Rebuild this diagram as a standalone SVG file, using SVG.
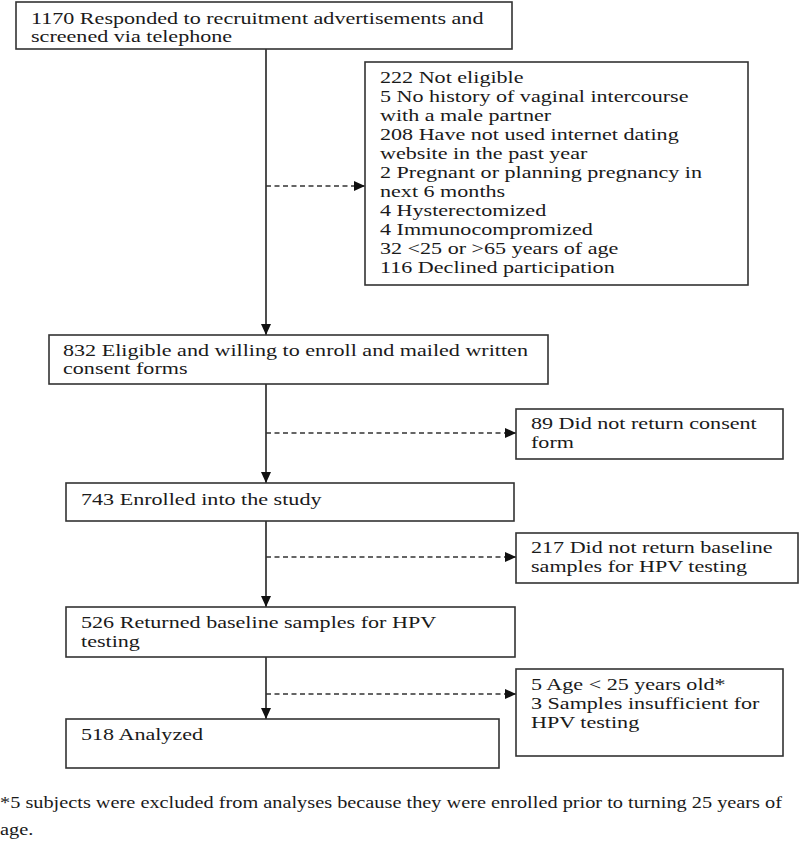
<svg xmlns="http://www.w3.org/2000/svg" width="800" height="846" viewBox="0 0 800 846">
<style>
.box{fill:#fff;stroke:#333;stroke-width:1.6}
.t{font-family:"Liberation Serif","Times New Roman",serif;font-size:17px;fill:#1a1a1a}
.ln{stroke:#222;stroke-width:1.6;fill:none}
.dash{stroke:#333;stroke-width:1.3;fill:none;stroke-dasharray:5 3.5}
</style>
<defs>
<marker id="ah" markerUnits="userSpaceOnUse" markerWidth="12" markerHeight="10" refX="11" refY="5" orient="auto">
<path d="M0,0 L11,5 L0,10 Z" fill="#111"/>
</marker>
</defs>
<rect width="800" height="846" fill="#fff"/>
<g id="connectors">
<line class="ln" x1="266" y1="49" x2="266" y2="335" marker-end="url(#ah)"/>
<line class="dash" x1="266" y1="186" x2="365" y2="186" marker-end="url(#ah)"/>
<line class="ln" x1="266" y1="384" x2="266" y2="483" marker-end="url(#ah)"/>
<line class="dash" x1="266" y1="433" x2="516" y2="433" marker-end="url(#ah)"/>
<line class="ln" x1="266" y1="521" x2="266" y2="607" marker-end="url(#ah)"/>
<line class="dash" x1="266" y1="557" x2="516" y2="557" marker-end="url(#ah)"/>
<line class="ln" x1="266" y1="657" x2="266" y2="719" marker-end="url(#ah)"/>
<line class="dash" x1="266" y1="694" x2="516" y2="694" marker-end="url(#ah)"/>
</g>
<g id="n1170">
<rect class="box" x="16" y="2" width="496" height="47"/>
<g transform="translate(31,0) scale(1.3,1)"><text class="t"><tspan x="0" y="24">1170 Responded to recruitment advertisements and</tspan><tspan x="0" y="42">screened via telephone</tspan></text></g>
</g>
<g id="n222">
<rect class="box" x="365" y="62" width="383" height="223"/>
<g transform="translate(380,0) scale(1.3,1)"><text class="t"><tspan x="0" y="83">222 Not eligible</tspan><tspan x="0" y="102">5 No history of vaginal intercourse</tspan><tspan x="0" y="121">with a male partner</tspan><tspan x="0" y="140">208 Have not used internet dating</tspan><tspan x="0" y="159">website in the past year</tspan><tspan x="0" y="178">2 Pregnant or planning pregnancy in</tspan><tspan x="0" y="197">next 6 months</tspan><tspan x="0" y="216">4 Hysterectomized</tspan><tspan x="0" y="235">4 Immunocompromized</tspan><tspan x="0" y="254">32 &lt;25 or &gt;65 years of age</tspan><tspan x="0" y="273">116 Declined participation</tspan></text></g>
</g>
<g id="n832">
<rect class="box" x="49" y="335" width="499" height="49"/>
<g transform="translate(63,0) scale(1.3,1)"><text class="t"><tspan x="0" y="356">832 Eligible and willing to enroll and mailed written</tspan><tspan x="0" y="374">consent forms</tspan></text></g>
</g>
<g id="n89">
<rect class="box" x="516" y="409" width="267" height="50"/>
<g transform="translate(531,0) scale(1.3,1)"><text class="t"><tspan x="0" y="429">89 Did not return consent</tspan><tspan x="0" y="448">form</tspan></text></g>
</g>
<g id="n743">
<rect class="box" x="66" y="483" width="448" height="38"/>
<g transform="translate(81,0) scale(1.3,1)"><text class="t" x="0" y="505">743 Enrolled into the study</text></g>
</g>
<g id="n217">
<rect class="box" x="516" y="533" width="282" height="50"/>
<g transform="translate(531,0) scale(1.3,1)"><text class="t"><tspan x="0" y="553">217 Did not return baseline</tspan><tspan x="0" y="572">samples for HPV testing</tspan></text></g>
</g>
<g id="n526">
<rect class="box" x="66" y="607" width="449" height="50"/>
<g transform="translate(81,0) scale(1.3,1)"><text class="t"><tspan x="0" y="628">526 Returned baseline samples for HPV</tspan><tspan x="0" y="647">testing</tspan></text></g>
</g>
<g id="nexcl">
<rect class="box" x="516" y="669" width="267" height="87"/>
<g transform="translate(531,0) scale(1.3,1)"><text class="t"><tspan x="0" y="690">5 Age &lt; 25 years old*</tspan><tspan x="0" y="709">3 Samples insufficient for</tspan><tspan x="0" y="728">HPV testing</tspan></text></g>
</g>
<g id="n518">
<rect class="box" x="66" y="719" width="433" height="49"/>
<g transform="translate(81,0) scale(1.3,1)"><text class="t" x="0" y="740">518 Analyzed</text></g>
</g>
<g id="footnote">
<text class="t" x="0" y="808" textLength="782" lengthAdjust="spacingAndGlyphs">*5 subjects were excluded from analyses because they were enrolled prior to turning 25 years of</text>
<g transform="scale(1.2,1)"><text class="t" x="0" y="835">age.</text></g>
</g>
</svg>
